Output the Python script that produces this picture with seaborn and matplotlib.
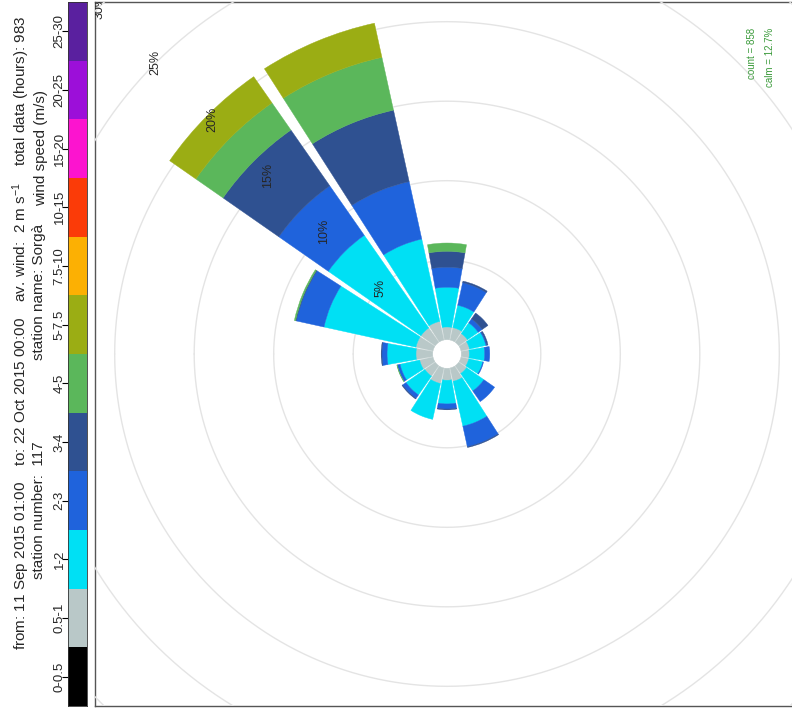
import numpy as np
import matplotlib
matplotlib.use("Agg")
import matplotlib.pyplot as plt
import seaborn as sns
from matplotlib.patches import Rectangle
from matplotlib.colors import ListedColormap

sns.set_theme(style="white")
plt.rcParams["font.family"] = ["Liberation Sans", "DejaVu Sans"]
plt.rcParams["mathtext.fontset"] = "custom"
plt.rcParams["mathtext.rm"] = "Liberation Sans"
plt.rcParams["mathtext.it"] = "Liberation Sans:italic"

# ---- data -------------------------------------------------------------
speed_bins = ["0-0.5", "0.5-1", "1-2", "2-3", "3-4", "4-5", "5-7.5",
              "7.5-10", "10-15", "15-20", "20-25", "25-30"]
bin_colors = ["#000000", "#b9c8c8", "#00e0f4", "#1f63dc", "#2f5191",
              "#5bb75b", "#9bad14", "#fcb003", "#fb3b08", "#fc14cf",
              "#9c0fd9", "#5a209f"]

# wind direction sectors (degrees from north)
directions = [0, 22.5, 45, 67.5, 90, 112.5, 135, 157.5,
              180, 202.5, 225, 247.5, 270, 292.5, 315, 337.5]

# frequency (% of hours) of each speed class per direction sector
freq_0_05 = [0, 0, 0, 0, 0, 0, 0, 0, 0, 0, 0, 0, 0, 0, 0, 0]
freq_05_1 = [1.05, 1.10, 1.10, 1.20, 0.80, 0.80, 0.67, 0.55,
             0.50, 0.50, 0.60, 0.86, 0.75, 1.00, 0.80, 0.86]
freq_1_2 = [1.82, 5.92, 7.10, 5.30, 2.50, 1.44, 0.82, 1.05,
            0.97, 0.90, 1.33, 2.89, 1.49, 2.31, 1.44, 1.26]
freq_2_3 = [0.32, 1.78, 3.79, 3.70, 1.26, 1.45, 0.30, 0.06,
            0.32, 0.05, 0.82, 1.32, 0.32, 0.00, 0.26, 0.18]
freq_3_4 = [0.05, 0.05, 4.28, 4.60, 1.00, 0.10, 0.45, 0.08,
            0.00, 0.00, 0.00, 0.05, 0.05, 0.00, 0.05, 0.00]
freq_4_5 = [0.00, 0.08, 2.08, 3.40, 0.52, 0.00, 0.00, 0.00,
            0.00, 0.00, 0.00, 0.00, 0.00, 0.00, 0.00, 0.03]
freq_5_75 = [0.00, 0.00, 2.01, 2.20, 0.00, 0.00, 0.00, 0.00,
             0.00, 0.00, 0.00, 0.00, 0.00, 0.00, 0.00, 0.00]
freq_75_10 = [0] * 16
freq_10_15 = [0] * 16
freq_15_20 = [0] * 16
freq_20_25 = [0] * 16
freq_25_30 = [0] * 16

speed_freqs = [freq_0_05, freq_05_1, freq_1_2, freq_2_3, freq_3_4, freq_4_5,
               freq_5_75, freq_75_10, freq_10_15, freq_15_20, freq_20_25,
               freq_25_30]

ring_levels = [5, 10, 15, 20, 25, 30]

title_line1 = ("from: 11 Sep 2015 01:00    to: 22 Oct 2015 00:00    "
               r"av. wind:  2 m s$^{-1}$    total data (hours): 983")
station_number = "station number:  117"
station_name = "station name: Sorgà"
key_title = "wind speed (m/s)"
count_text = "count = 858"
calm_text = "calm = 12.7%"

# ---- layout (pixels) ----------------------------------------------------
W, H = 792, 710
fig = plt.figure(figsize=(W / 100, H / 100), dpi=100)


def fx(px):
    return px / W


def fy(py):
    return 1 - py / H


panel_l, panel_t, panel_size = 95, 2, 704
cx, cy = 447, 354          # centre of the rose
px_per_pct = 15.9
hole = 0.9                 # empty centre, in % units
r_max = 31.5

frame = fig.add_axes([fx(panel_l), fy(panel_t + panel_size),
                      panel_size / W, panel_size / H])
frame.set_xticks([])
frame.set_yticks([])
frame.set_facecolor("white")
for sp in frame.spines.values():
    sp.set_visible(True)
    sp.set_color("#555555")
    sp.set_linewidth(1.0)
frame.set_zorder(0)

rad_px = r_max * px_per_pct
ax = fig.add_axes([fx(cx - rad_px), fy(cy + rad_px),
                   2 * rad_px / W, 2 * rad_px / H], projection="polar")
ax.set_zorder(1)
ax.set_theta_zero_location("W")
ax.set_theta_direction(-1)
ax.set_ylim(0, r_max)
ax.set_axis_off()

# grid circles
tt = np.linspace(0, 2 * np.pi, 721)
for lev in ring_levels:
    ax.plot(tt, np.full_like(tt, hole + lev), color="#e4e4e4", lw=1.0,
            zorder=1)

# stacked bars
theta = np.deg2rad(directions)
width = np.deg2rad(22.5 * 0.9)
cum = np.zeros(len(directions))
for col, vals in zip(bin_colors, speed_freqs):
    v = np.asarray(vals, dtype=float)
    m = v > 0
    if m.any():
        ax.bar(theta[m], v[m], width=width, bottom=hole + cum[m],
               color=col, edgecolor=col, linewidth=0.3, align="center",
               zorder=2)
    cum += v

# percentage labels along the rings
for lev in ring_levels:
    ax.text(np.deg2rad(45), hole + lev, f"{lev}%", rotation=90,
            ha="center", va="center", fontsize=9, zorder=3)

clip_rect = Rectangle((fx(panel_l), fy(panel_t + panel_size)),
                      panel_size / W, panel_size / H,
                      transform=fig.transFigure, facecolor="none")
for art in list(ax.lines) + list(ax.patches) + list(ax.texts):
    art.set_clip_on(True)
    art.set_clip_path(clip_rect)

# colour key
cb = fig.add_axes([fx(68), fy(706), 19 / W, 704 / H])
codes = np.arange(len(speed_bins))[::-1].reshape(-1, 1)
sns.heatmap(codes, cmap=ListedColormap(bin_colors), vmin=-0.5,
            vmax=len(speed_bins) - 0.5, cbar=False, ax=cb,
            xticklabels=False, yticklabels=speed_bins[::-1])
cb.tick_params(axis="y", left=True, length=4, width=0.8, pad=2,
               color="black", labelsize=9.5)
plt.setp(cb.get_yticklabels(), rotation=90, va="center", ha="center")
for sp in cb.spines.values():
    sp.set_visible(True)
    sp.set_color("#333333")
    sp.set_linewidth(0.6)

# header text
fig.text(fx(21), fy(333), title_line1, rotation=90, ha="center",
         va="center", fontsize=11)
fig.text(fx(39), fy(510), station_number, rotation=90, ha="center",
         va="center", fontsize=11)
fig.text(fx(39), fy(292), station_name, rotation=90, ha="center",
         va="center", fontsize=11)
fig.text(fx(41), fy(148), key_title, rotation=90, ha="center", va="center",
         fontsize=11)

fig.text(fx(752), fy(28), count_text, rotation=90, ha="center", va="top",
         color="#3a9a3a", fontsize=7)
fig.text(fx(770), fy(28), calm_text, rotation=90, ha="center", va="top",
         color="#3a9a3a", fontsize=7)

fig.savefig("out.png", dpi=100)
